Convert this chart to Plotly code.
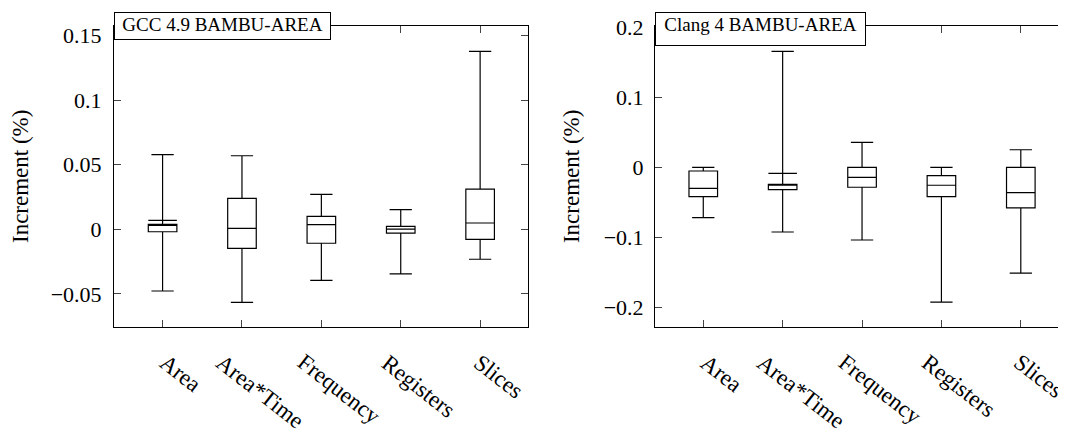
import plotly.graph_objects as go

categories = ["Area", "Area*Time", "Frequency", "Registers", "Slices"]

gcc_lower = [-0.0478, -0.0566, -0.0396, -0.0346, -0.0232]
gcc_q1 = [-0.0019, -0.0147, -0.0108, -0.0029, -0.0078]
gcc_median = [0.0070, 0.0008, 0.0037, 0.0002, 0.0049]
gcc_q3 = [0.0039, 0.0240, 0.0100, 0.0023, 0.0312]
gcc_upper = [0.0578, 0.0570, 0.0271, 0.0152, 0.1379]

clang_lower = [-0.0720, -0.0926, -0.1040, -0.1930, -0.1514]
clang_q1 = [-0.0420, -0.0320, -0.0286, -0.0420, -0.0580]
clang_median = [-0.0303, -0.0088, -0.0143, -0.0257, -0.0362]
clang_q3 = [-0.0053, -0.0243, 0.0000, -0.0120, 0.0000]
clang_upper = [0.0000, 0.1657, 0.0357, 0.0000, 0.0251]

gcc_tickvals = [0.15, 0.1, 0.05, 0, -0.05]
gcc_ticktext = ["0.15", "0.1", "0.05", "0", "\u22120.05"]
clang_tickvals = [0.2, 0.1, 0, -0.1, -0.2]
clang_ticktext = ["0.2", "0.1", "0", "\u22120.1", "\u22120.2"]

titles = ["GCC 4.9 BAMBU-AREA", "Clang 4 BAMBU-AREA"]
ylabel = "Increment (%)"

W, H = 1066, 430
OFF = 8  # page body margin: figure pixel = screen pixel - OFF
FONT = "Liberation Serif"
BOX_W = 0.36
pos = list(range(len(categories)))

fig = go.Figure()

def add_box(q1, med, q3, lo, hi, xa, ya):
    # plotly needs q1 <= median <= q3; keep the box valid and draw the
    # real median line separately when it lies outside the box
    med_in = [min(max(m, a), b) for m, a, b in zip(med, q1, q3)]
    fig.add_trace(go.Box(
        x=pos, q1=q1, median=med_in, q3=q3, lowerfence=lo, upperfence=hi,
        xaxis=xa, yaxis=ya, width=BOX_W, whiskerwidth=0.78,
        line=dict(color="black", width=1.2), fillcolor="white",
        boxpoints=False, showlegend=False, hoverinfo="skip"))
    xs, ys = [], []
    for p, m, mi in zip(pos, med, med_in):
        if m != mi:
            xs += [p - BOX_W / 2, p + BOX_W / 2, None]
            ys += [m, m, None]
    if xs:
        fig.add_trace(go.Scatter(x=xs, y=ys, mode="lines", xaxis=xa, yaxis=ya,
                                 line=dict(color="black", width=1.2),
                                 showlegend=False, hoverinfo="skip"))

add_box(gcc_q1, gcc_median, gcc_q3, gcc_lower, gcc_upper, "x", "y")
add_box(clang_q1, clang_median, clang_q3, clang_lower, clang_upper, "x2", "y2")

def px(v):
    return (v - OFF) / W

def py(v):
    return 1 - (v - OFF) / H

ydom = [py(326.8), py(25.8)]

axis_common = dict(showline=True, linecolor="black", linewidth=1, mirror="ticks",
                   ticks="inside", ticklen=7, tickcolor="#444", tickwidth=1,
                   showgrid=False, zeroline=False, automargin=False)

fig.update_layout(
    width=W, height=H, autosize=False,
    margin=dict(l=0, r=0, t=0, b=0, pad=0, autoexpand=False),
    paper_bgcolor="white", plot_bgcolor="white",
    font=dict(family=FONT, color="black", size=22),
    xaxis=dict(domain=[px(114), px(528)], range=[-0.612, 4.603],
               tickvals=pos, showticklabels=False, anchor="y", **axis_common),
    yaxis=dict(domain=ydom, range=[-0.07554, 0.1577], anchor="x",
               tickvals=gcc_tickvals, ticktext=gcc_ticktext, ticklabelstandoff=7,
               tickfont=dict(size=22),
               title=dict(text=ylabel, font=dict(size=23), standoff=17), **axis_common),
    xaxis2=dict(domain=[px(655), px(1069)], range=[-0.608, 4.607],
                tickvals=pos, showticklabels=False, anchor="y2", **axis_common),
    yaxis2=dict(domain=ydom, range=[-0.2282, 0.2024], anchor="x2",
                tickvals=clang_tickvals, ticktext=clang_ticktext, ticklabelstandoff=6,
                tickfont=dict(size=22),
                title=dict(text=ylabel, font=dict(size=23), standoff=17), **axis_common),
)

# title boxes
fig.add_annotation(x=px(113.6), y=py(11.7), xref="paper", yref="paper",
                   xanchor="left", yanchor="top", text=titles[0], showarrow=False,
                   font=dict(size=19, family=FONT, color="black"),
                   bgcolor="white", bordercolor="black", borderwidth=1, borderpad=1,
                   width=213, height=24, valign="top")
fig.add_annotation(x=px(654.7), y=py(11.7), xref="paper", yref="paper",
                   xanchor="left", yanchor="top", text=titles[1], showarrow=False,
                   font=dict(size=19, family=FONT, color="black"),
                   bgcolor="white", bordercolor="black", borderwidth=1, borderpad=1,
                   width=207, height=30, valign="top")

# rotated category labels
for xr in ["x", "x2"]:
    for p, c in zip(pos, categories):
        fig.add_annotation(x=p, xref=xr, y=py(347), yref="paper",
                           xanchor="center", yanchor="top", xshift=18,
                           text=c, textangle=38, showarrow=False,
                           font=dict(size=23, family=FONT, color="black"))

fig.write_html("out.html")
